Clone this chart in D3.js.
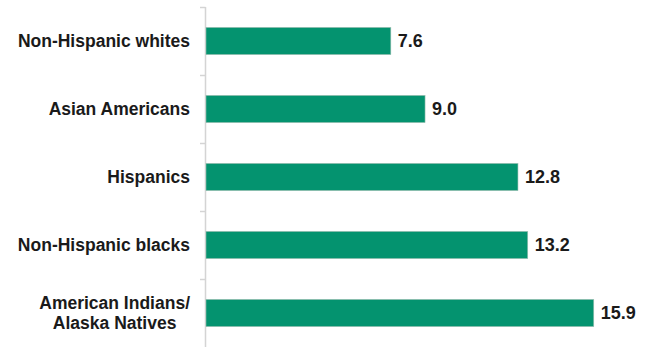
<!DOCTYPE html>
<html>
<head>
<meta charset="utf-8">
<script src="https://cdn.jsdelivr.net/npm/d3@7"></script>
<style>
  body { margin: 0; background: #fff; }
  text { font-family: "Liberation Sans", Arial, sans-serif; font-weight: bold; fill: #1a1a1a; }
</style>
</head>
<body>
<div id="chart"></div>
<script>
var groups = [
  ["Non-Hispanic whites"],
  ["Asian Americans"],
  ["Hispanics"],
  ["Non-Hispanic blacks"],
  ["American Indians/", "Alaska Natives"]
];
var values = [7.6, 9.0, 12.8, 13.2, 15.9];

var width = 652, height = 347;
var margin = {top: 7, left: 205, bottom: 0};

var svg = d3.select("#chart")
  .append("svg")
  .attr("width", width)
  .attr("height", height);

var ids = groups.map((g, i) => i);

// Y scale, one band per group
var yScale = d3.scaleBand()
  .domain(ids)
  .range([margin.top, height - margin.bottom])
  .paddingInner(0.6)
  .paddingOuter(0.3);

// X scale
var xScale = d3.scaleLinear()
  .domain([0, 16])
  .range([margin.left, margin.left + 391.2]);

var step = yScale.step();

// Axis line and ticks at band edges
var axisG = svg.append("g").attr("class", "y-axis");
axisG.append("line")
  .attr("x1", margin.left + 0.5)
  .attr("x2", margin.left + 0.5)
  .attr("y1", margin.top)
  .attr("y2", height)
  .attr("stroke", "#d4d4d4")
  .attr("stroke-width", 1.5);

axisG.selectAll(".tick")
  .data(ids.map(i => margin.top + i * step))
  .enter()
  .append("line")
  .attr("class", "tick")
  .attr("x1", margin.left - 5)
  .attr("x2", margin.left + 0.5)
  .attr("y1", d => Math.round(d) + 0.5)
  .attr("y2", d => Math.round(d) + 0.5)
  .attr("stroke", "#d4d4d4")
  .attr("stroke-width", 1.5);

// Bars
svg.append("g")
  .selectAll("rect")
  .data(values)
  .enter()
  .append("rect")
  .attr("x", xScale(0) + 1)
  .attr("y", (d, i) => yScale(i))
  .attr("width", d => xScale(d) - xScale(0) - 1)
  .attr("height", yScale.bandwidth())
  .attr("fill", "#04936f")
  .attr("stroke", "#9fbfb3")
  .attr("stroke-width", 0.6);

// Value labels
svg.append("g")
  .selectAll("text")
  .data(values)
  .enter()
  .append("text")
  .attr("x", d => xScale(d) + 7)
  .attr("y", (d, i) => yScale(i) + yScale.bandwidth() / 2)
  .attr("dy", "0.36em")
  .style("font-size", "18px")
  .text(d => d.toFixed(1));

// Category labels, lines centred as a block, block right-aligned
var labelRight = 190;
var labelG = svg.append("g")
  .selectAll("text")
  .data(groups)
  .enter()
  .append("text")
  .attr("text-anchor", "middle")
  .style("font-size", "17.5px")
  .attr("transform", (d, i) => `translate(0,${yScale(i) + yScale.bandwidth() / 2})`);

labelG.selectAll("tspan")
  .data(d => d.map((t, j) => ({t: t, j: j, n: d.length})))
  .enter()
  .append("tspan")
  .attr("y", d => (d.j - (d.n - 1) / 2) * 20)
  .attr("dy", "0.36em")
  .text(d => d.t);

labelG.each(function() {
  var spans = d3.select(this).selectAll("tspan");
  var w = d3.max(spans.nodes(), n => n.getComputedTextLength());
  spans.attr("x", labelRight - w / 2);
});
</script>
</body>
</html>
